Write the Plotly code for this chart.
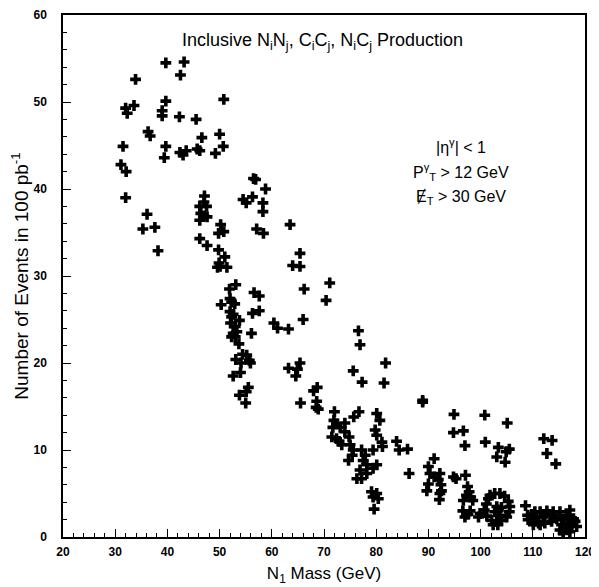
import plotly.graph_objects as go

# N1 mass (GeV) and number of events
mass = [
    39.7, 43.2, 42.5, 33.9, 39.7, 50.8, 32.0, 33.6, 32.3, 39.0, 39.0, 42.3, 45.5,
    36.3, 36.7, 46.6, 50.0, 31.5, 39.7, 50.7, 42.4, 43.0, 43.6, 45.7, 46.2, 49.2,
    39.4, 31.1, 32.1, 32.0, 36.1, 35.3, 37.6, 38.2,
    56.5, 56.9, 58.8, 47.1, 47.0, 46.2, 47.5, 46.4, 47.0, 47.6, 46.2,
    54.5, 55.1, 56.3, 58.3, 58.3, 50.2, 49.8, 50.8, 46.2, 47.6, 49.8, 51.0,
    49.9, 49.6, 50.1, 51.4, 57.1, 58.4, 63.5, 65.4, 64.0, 65.4,
    71.1, 66.2, 70.4, 53.1, 51.9, 50.3, 52.0, 52.3, 52.9, 56.6, 57.6,
    52.0, 52.6, 52.3, 53.8, 52.1, 53.0, 53.3, 52.6, 52.3, 53.0,
    56.3, 57.6, 60.4, 61.1, 63.2, 66.0, 56.1, 53.7, 76.6, 76.9,
    53.1, 54.4, 55.2, 54.1, 55.7, 55.9, 52.6, 54.0, 55.5, 55.1, 53.8, 55.0,
    63.2, 65.4, 64.9, 64.6, 65.5, 68.0, 68.7, 68.6, 68.5, 68.9, 75.6, 77.3,
    72.0, 71.9, 72.4, 71.7, 73.1, 71.5, 72.4, 72.9, 73.4, 74.0, 74.8, 75.0,
    75.6, 75.4, 74.7, 75.7, 76.7,
    77.2, 77.9, 77.5, 78.2, 76.9, 76.3, 77.2, 78.2, 79.4, 80.1, 79.4, 80.1,
    79.8, 80.1, 79.1, 80.1, 79.4, 80.4, 79.6,
    81.8, 81.5, 88.9, 88.9, 74.0, 80.7, 81.1, 81.2,
    83.9, 84.4, 86.0, 86.3, 94.9, 94.8, 96.7, 97.0, 100.8, 100.9,
    105.1, 103.4, 103.1, 104.9, 105.5, 104.7, 112.1, 113.7, 112.7, 114.4,
    91.1, 90.0, 90.3, 91.1, 92.2, 91.9, 90.0, 92.4, 89.7, 92.5, 92.2, 92.1,
    94.8, 95.3, 97.1,
    97.5, 97.8, 97.3, 98.1, 96.7, 98.5, 96.6, 98.0, 97.6, 97.0,
    101.8, 102.7, 103.7, 104.6, 105.3, 105.6, 105.5, 105.0, 104.0, 103.1,
    102.1, 101.2, 100.7, 101.1, 101.5, 99.9, 99.6, 102.4, 103.3, 103.1,
    103.4, 102.7, 104.0, 103.7,
    108.6, 109.0, 109.8, 110.4, 110.7, 111.4, 112.0, 112.7, 113.3, 113.9,
    114.6, 115.2, 115.8, 116.5, 117.1, 117.8, 109.1, 110.1, 111.1, 112.3,
    113.6, 115.5, 116.2, 116.8, 117.5, 118.1, 115.2, 115.8, 117.1, 118.4,
    110.1, 111.4,
]
events = [
    54.5, 54.6, 53.1, 52.6, 50.1, 50.3, 49.3, 49.6, 48.7, 49.0, 48.4, 48.3, 48.0,
    46.6, 46.1, 45.9, 46.3, 44.9, 44.9, 44.9, 44.2, 43.9, 44.4, 44.6, 44.4, 44.1,
    43.6, 42.8, 42.0, 39.0, 37.1, 35.4, 35.6, 32.9,
    41.2, 41.1, 40.0, 39.2, 38.5, 38.0, 38.0, 37.2, 36.9, 36.8, 36.4,
    38.8, 38.4, 39.1, 38.4, 37.4, 35.9, 34.9, 35.1, 34.3, 33.5, 33.0, 32.2,
    31.5, 31.0, 31.1, 31.0, 35.4, 34.9, 35.9, 32.6, 31.2, 31.1,
    29.2, 28.5, 27.2, 29.0, 28.5, 26.7, 27.4, 27.0, 26.8, 28.1, 27.7,
    25.9, 25.6, 25.3, 24.9, 24.6, 24.2, 23.6, 23.4, 23.0, 23.0,
    25.7, 26.0, 24.6, 24.0, 23.9, 25.0, 23.4, 22.2, 23.7, 22.1,
    20.4, 21.0, 20.9, 20.0, 20.3, 20.0, 18.5, 18.9, 17.2, 16.7, 16.3, 15.4,
    19.4, 20.0, 19.3, 18.5, 15.4, 16.8, 17.2, 15.6, 14.9, 14.7, 19.1, 17.8,
    14.4, 13.4, 13.0, 12.6, 12.6, 11.5, 11.3, 11.0, 10.6, 12.1, 11.5, 10.6,
    10.0, 9.4, 8.8, 13.8, 14.4,
    10.0, 9.4, 8.8, 8.3, 7.7, 6.7, 6.7, 7.3, 7.9, 8.3, 10.0, 11.7,
    12.3, 14.2, 5.2, 5.0, 4.6, 4.4, 3.2,
    20.0, 17.7, 15.7, 15.5, 13.1, 13.4, 10.9, 10.4,
    11.0, 10.0, 10.1, 7.3, 14.1, 12.0, 12.2, 10.5, 14.0, 10.9,
    13.1, 10.3, 9.2, 9.8, 10.1, 8.6, 11.3, 11.1, 9.6, 8.4,
    9.0, 8.1, 7.3, 6.9, 7.3, 6.6, 6.1, 6.0, 5.3, 5.3, 5.0, 4.3,
    6.9, 6.7, 7.1,
    5.8, 5.2, 4.8, 4.6, 4.2, 4.2, 3.0, 3.0, 2.6, 2.3,
    4.8, 5.0, 5.0, 4.7, 4.1, 3.5, 2.9, 2.3, 1.9, 1.8,
    1.9, 2.4, 3.1, 3.8, 4.4, 2.7, 2.3, 1.4, 1.4, 3.5,
    3.1, 2.9, 3.4, 2.5,
    3.6, 2.5, 2.6, 2.9, 2.3, 2.9, 2.3, 3.0, 2.5, 2.9,
    2.1, 2.9, 2.0, 2.5, 3.1, 2.1, 2.0, 1.8, 1.6, 1.6,
    1.8, 1.4, 1.0, 1.6, 1.4, 1.8, 0.8, 0.4, 0.6, 1.2,
    1.4, 1.4,
]

x_ticks = [20, 30, 40, 50, 60, 70, 80, 90, 100, 110, 120]
y_ticks = [0, 10, 20, 30, 40, 50, 60]

font = 'Liberation Sans, Arial, sans-serif'

fig = go.Figure()
fig.add_trace(go.Scatter(
    x=mass,
    y=events,
    mode='markers',
    marker=dict(symbol='cross', size=9, color='black', line=dict(width=0)),
    showlegend=False,
))

axis_style = dict(
    automargin=False,
    showline=True,
    linecolor='black',
    linewidth=1.5,
    mirror=True,
    showgrid=False,
    zeroline=False,
    ticks='inside',
    ticklen=8,
    tickwidth=1.2,
    tickcolor='black',
    tickfont=dict(family=font, size=12, color='black', weight='bold'),
    minor=dict(ticks='inside', ticklen=4, tickwidth=1, tickcolor='black', dtick=2),
)

fig.update_xaxes(
    range=[20, 120],
    tickvals=x_ticks,
    ticktext=[str(v) for v in x_ticks],
    ticklabelstandoff=3,
    title=dict(text='N<sub>1</sub> Mass (GeV)', font=dict(family=font, size=17, color='black'), standoff=9),
    **axis_style,
)
fig.update_yaxes(
    range=[0, 60],
    tickvals=y_ticks,
    ticktext=[str(v) for v in y_ticks],
    ticklabelstandoff=12,
    title=dict(text='Number of Events in 100 pb<sup>-1</sup>', font=dict(family=font, size=19, color='black'), standoff=0),
    **axis_style,
)

notes = [
    ('Inclusive N<sub>i</sub>N<sub>j</sub>, C<sub>i</sub>C<sub>j</sub>, N<sub>i</sub>C<sub>j</sub> Production', 69.8, 57.0, 18),
    ('|η<sup>γ</sup>| < 1', 96.3, 45.0, 16),
    ('P<sup>γ</sup><sub>T</sub> > 12 GeV', 96.3, 42.0, 16),
    ('Ɇ<sub>T</sub> > 30 GeV', 96.3, 39.0, 16),
]
for text, x, y, size in notes:
    fig.add_annotation(
        x=x, y=y, xref='x', yref='y', text=text, showarrow=False,
        font=dict(family=font, size=size, color='black'),
    )

# the page body adds an 8px offset, so the figure is 8px smaller each way
fig.update_layout(
    width=591,
    height=579,
    margin=dict(l=55, r=14, t=7, b=50),
    plot_bgcolor='white',
    paper_bgcolor='white',
)

fig.write_html('out.html')
